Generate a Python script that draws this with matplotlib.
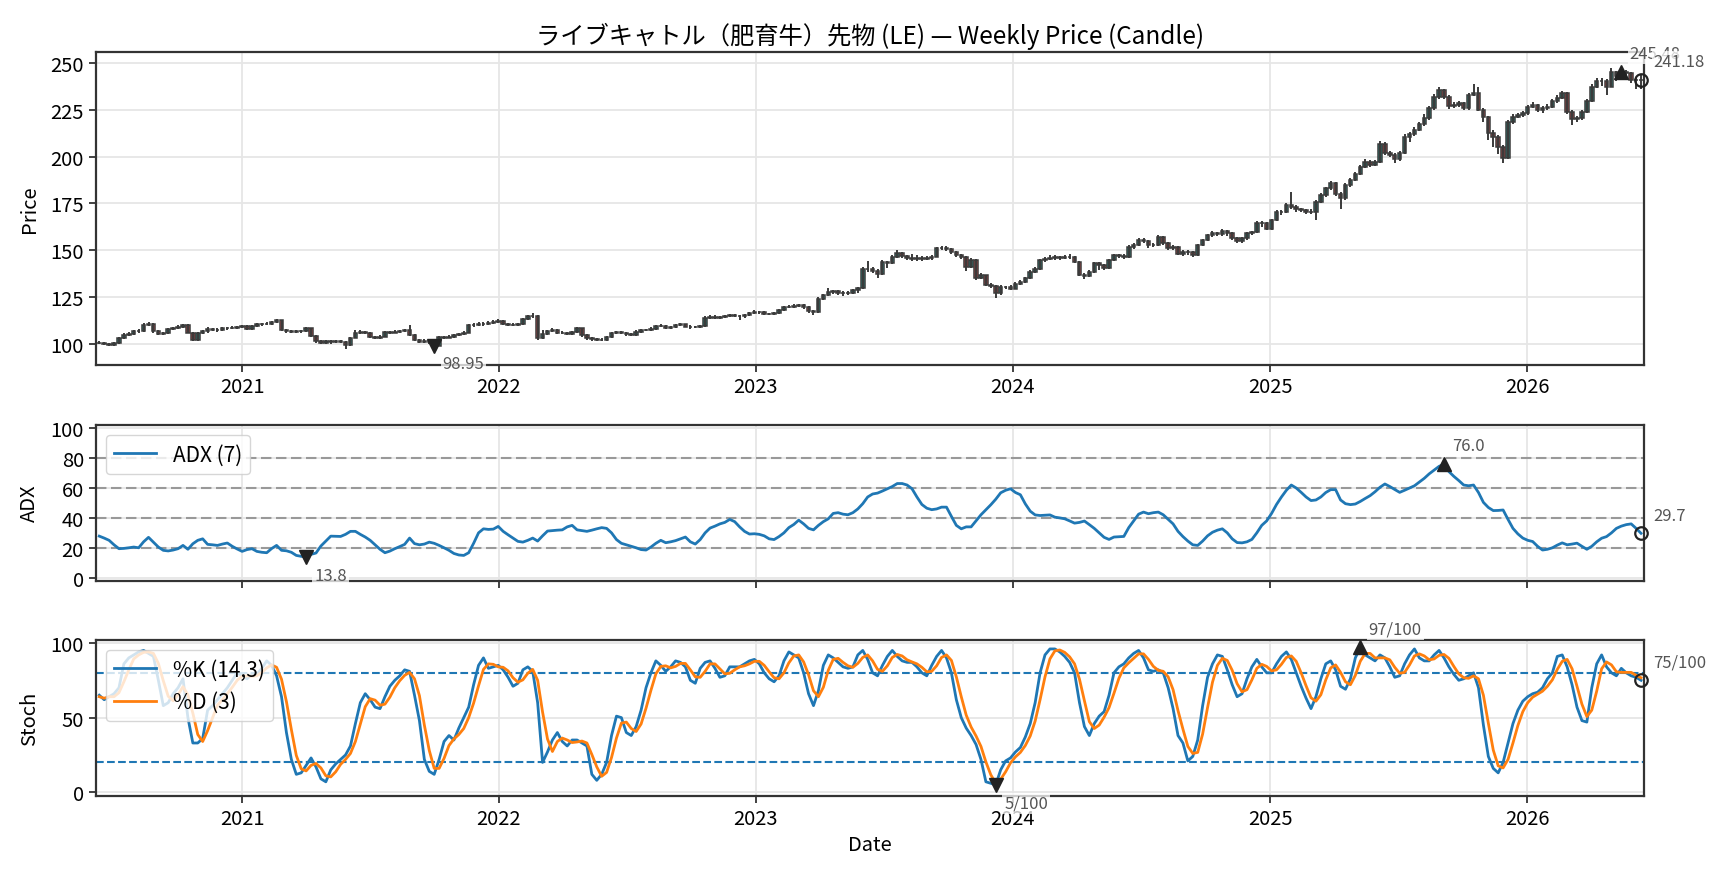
import numpy as np
import pandas as pd
import matplotlib
matplotlib.use("Agg")
import matplotlib.pyplot as plt
import matplotlib.dates as mdates
from matplotlib.ticker import MultipleLocator

plt.rcParams['font.family'] = ['Noto Sans CJK JP', 'DejaVu Sans']

# weekly bars
dates = pd.date_range('2020-06-12', periods=314, freq='7D')

opens = [
    100.6, 100.3, 99.6, 99.2, 100.4, 102.8, 104.8, 105.4, 106.6, 107.0,
    110.2, 110.6, 106.8, 105.4, 105.6, 107.8, 108.4, 109.2, 110.0, 106.0,
    102.0, 105.6, 106.6, 108.0, 107.6, 107.2, 108.2, 108.4, 108.6, 109.0,
    109.4, 108.0, 109.6, 110.6, 110.4, 110.8, 111.6, 112.6, 107.6, 106.6,
    106.4, 106.8, 106.6, 108.2, 104.2, 101.4, 100.6, 101.2, 100.8, 101.4,
    101.0, 99.4, 103.2, 106.0, 106.4, 105.8, 103.6, 103.2, 103.8, 106.2,
    106.0, 106.4, 106.8, 107.4, 104.6, 102.0, 101.0, 101.6, 100.8, 98.95,
    103.4, 103.2, 103.8, 104.6, 105.2, 106.0, 109.8, 110.2, 110.8, 110.4,
    111.2, 111.6, 112.4, 110.6, 110.2, 110.0, 110.6, 113.2, 114.6, 115.0,
    103.0, 105.4, 106.8, 107.4, 106.0, 105.6, 105.2, 106.2, 108.2, 104.6,
    102.8, 102.4, 102.0, 102.2, 103.5, 105.5, 106.2, 106.0, 105.0, 104.8,
    106.5, 107.2, 107.5, 108.0, 109.4, 109.6, 108.5, 108.8, 110.0, 110.3,
    109.2, 108.8, 109.0, 109.5, 114.0, 114.5, 114.0, 114.2, 114.6, 115.3,
    115.0, 114.6, 115.2, 116.4, 117.0, 116.8, 116.0, 115.8, 116.2, 118.0,
    119.4, 119.8, 120.4, 120.6, 119.8, 117.6, 117.0, 124.0, 126.0, 127.6,
    128.0, 127.2, 127.0, 127.0, 128.5, 129.6, 140.0, 140.2, 139.0, 137.5,
    143.7, 143.0, 146.5, 148.3, 146.8, 146.0, 145.2, 146.0, 145.4, 145.8,
    146.6, 151.0, 151.2, 150.8, 149.0, 147.3, 146.4, 141.0, 145.0, 135.0,
    136.6, 131.3, 131.0, 127.0, 130.4, 130.2, 129.5, 132.0, 133.0, 135.0,
    138.4, 140.0, 144.6, 145.5, 146.0, 146.2, 145.8, 146.5, 146.6, 143.7,
    137.0, 136.3, 138.4, 143.0, 142.0, 140.5, 144.6, 147.3, 147.0, 146.4,
    151.8, 152.7, 155.4, 155.0, 152.7, 152.7, 157.0, 154.0, 151.0, 151.8,
    148.2, 148.8, 148.8, 147.3, 152.7, 155.4, 158.0, 159.0, 158.4, 160.0,
    159.0, 156.3, 154.8, 156.3, 159.0, 159.5, 164.3, 164.3, 161.6, 166.0,
    170.5, 170.5, 174.0, 173.0, 172.0, 171.4, 170.5, 170.5, 176.0, 179.5,
    183.0, 185.7, 180.0, 177.7, 184.8, 187.5, 191.0, 194.6, 197.0, 195.5,
    197.3, 207.0, 202.0, 200.9, 199.0, 201.8, 210.7, 212.0, 214.3, 217.3,
    220.5, 225.9, 232.0, 235.7, 232.0, 227.0, 227.7, 228.6, 225.9, 233.0,
    233.9, 225.0, 221.0, 212.5, 210.7, 205.4, 199.5, 218.8, 221.4, 222.3,
    223.2, 226.8, 227.7, 225.0, 225.9, 226.8, 229.5, 231.6, 233.9, 224.0,
    220.0, 220.5, 224.0, 229.5, 237.5, 240.5, 240.2, 237.5, 245.0, 243.0,
    245.48, 244.6, 241.0, 241.0,
]
highs = [
    101.2, 100.9, 100.2, 100.9, 103.4, 105.5, 106.3, 107.2, 107.8, 110.9,
    111.5, 111.0, 107.4, 106.4, 108.3, 109.1, 109.8, 110.8, 110.4, 106.5,
    106.2, 107.4, 108.9, 108.6, 108.2, 108.9, 109.0, 109.3, 109.7, 110.0,
    109.8, 110.2, 111.3, 111.2, 111.6, 112.3, 113.4, 112.9, 108.1, 107.2,
    107.4, 107.5, 108.9, 108.6, 104.6, 102.0, 101.9, 101.8, 102.1, 102.0,
    101.4, 103.8, 107.6, 107.2, 107.0, 106.2, 104.2, 104.5, 106.8, 106.9,
    107.1, 107.5, 108.1, 110.0, 105.2, 102.6, 102.3, 102.1, 101.2, 104.0,
    104.1, 104.5, 105.2, 105.9, 106.8, 110.6, 111.2, 111.5, 111.4, 111.9,
    112.9, 113.2, 112.9, 111.3, 111.0, 111.3, 113.8, 115.6, 116.2, 115.4,
    107.2, 107.6, 108.2, 107.9, 106.6, 106.2, 106.9, 109.0, 108.6, 105.2,
    103.4, 102.9, 102.9, 104.1, 106.4, 106.9, 106.8, 106.4, 105.6, 107.1,
    107.8, 108.1, 108.7, 110.0, 110.3, 110.0, 109.5, 110.6, 111.0, 110.8,
    109.8, 109.6, 110.1, 114.6, 115.3, 115.1, 114.9, 115.2, 116.0, 115.8,
    115.4, 115.9, 117.0, 117.8, 117.6, 117.3, 116.6, 117.0, 118.8, 120.0,
    120.6, 121.2, 121.4, 121.2, 120.2, 118.2, 124.8, 126.8, 129.8, 128.9,
    128.7, 128.0, 128.1, 129.2, 130.4, 140.8, 144.4, 141.0, 139.8, 144.6,
    144.2, 147.4, 150.2, 149.0, 147.6, 147.8, 147.3, 146.8, 146.8, 147.6,
    151.8, 152.2, 152.0, 151.4, 149.6, 148.0, 146.8, 146.0, 145.4, 137.8,
    137.0, 132.4, 131.5, 131.2, 131.0, 131.4, 132.8, 133.9, 135.8, 139.2,
    140.9, 145.4, 146.6, 147.2, 147.2, 147.0, 147.6, 147.8, 147.0, 144.2,
    138.0, 139.2, 143.8, 143.8, 142.8, 145.4, 148.2, 148.2, 147.8, 152.6,
    153.6, 156.4, 156.6, 155.6, 153.8, 158.0, 157.8, 154.6, 152.8, 152.4,
    150.0, 150.0, 149.6, 153.4, 156.2, 158.8, 160.0, 159.8, 161.2, 160.8,
    159.6, 157.0, 157.2, 159.8, 160.4, 165.4, 165.6, 165.0, 166.8, 171.4,
    171.6, 175.0, 181.0, 174.2, 172.8, 172.2, 171.8, 177.0, 180.6, 184.0,
    186.8, 186.2, 181.0, 185.8, 188.6, 192.0, 195.6, 199.0, 198.0, 198.4,
    208.2, 207.8, 203.2, 201.8, 203.0, 212.0, 213.4, 215.6, 218.6, 222.8,
    227.2, 233.4, 237.0, 236.4, 232.8, 229.0, 230.0, 229.4, 234.2, 239.0,
    237.2, 225.8, 221.8, 214.0, 211.4, 206.4, 219.8, 222.8, 223.6, 224.4,
    227.8, 229.0, 228.4, 227.2, 228.0, 230.6, 233.0, 235.0, 234.6, 225.0,
    222.0, 225.0, 230.6, 238.8, 241.8, 242.0, 241.4, 247.6, 246.0, 246.8,
    246.6, 245.4, 242.6, 243.6,
]
lows = [
    99.6, 99.2, 98.6, 98.9, 100.0, 102.3, 104.1, 104.9, 105.9, 106.5,
    109.4, 106.0, 104.8, 104.6, 105.1, 107.2, 107.9, 108.6, 105.5, 101.2,
    101.6, 105.0, 106.0, 106.9, 106.5, 106.8, 107.6, 107.8, 108.0, 108.5,
    107.4, 107.6, 109.0, 109.7, 109.8, 110.2, 111.0, 107.0, 106.0, 105.8,
    105.9, 106.0, 106.2, 103.6, 100.6, 99.9, 100.0, 100.1, 100.2, 100.3,
    97.4, 99.0, 102.8, 105.2, 105.1, 103.0, 102.6, 102.7, 103.4, 105.4,
    105.5, 105.9, 106.2, 104.0, 101.4, 100.4, 100.5, 100.1, 98.3, 98.7,
    102.5, 102.8, 103.2, 104.1, 104.8, 105.6, 109.0, 109.6, 109.7, 109.9,
    110.6, 111.0, 110.0, 109.5, 109.3, 109.4, 110.2, 112.8, 113.9, 102.0,
    102.4, 104.9, 106.1, 105.4, 105.0, 104.6, 104.8, 105.8, 103.5, 102.2,
    101.6, 101.3, 101.2, 101.7, 103.0, 105.0, 105.2, 104.4, 104.1, 104.4,
    106.0, 106.6, 107.0, 107.6, 108.8, 107.9, 107.9, 108.3, 109.4, 108.7,
    108.1, 108.2, 108.4, 109.1, 113.4, 113.3, 113.4, 113.6, 114.1, 114.3,
    112.6, 114.0, 114.8, 115.9, 116.1, 115.4, 115.1, 115.1, 115.8, 117.6,
    118.9, 119.2, 119.6, 118.4, 116.4, 115.2, 116.6, 123.4, 125.4, 126.8,
    126.3, 125.6, 125.8, 126.6, 126.9, 129.2, 138.2, 137.8, 135.4, 137.0,
    140.4, 142.6, 145.8, 146.0, 145.0, 144.4, 144.0, 144.2, 144.6, 145.0,
    146.2, 150.0, 149.6, 148.0, 146.5, 145.4, 139.0, 140.6, 134.2, 134.4,
    130.8, 129.8, 124.6, 126.2, 129.2, 128.8, 129.0, 131.4, 132.4, 134.6,
    137.8, 139.6, 143.6, 144.8, 145.0, 144.9, 145.2, 145.2, 143.0, 136.0,
    134.8, 135.6, 137.8, 139.6, 139.4, 140.0, 144.0, 146.0, 145.4, 146.0,
    150.8, 152.0, 154.0, 151.4, 151.6, 152.0, 152.6, 150.2, 150.2, 147.2,
    147.0, 147.6, 146.2, 146.8, 152.0, 154.8, 157.2, 157.4, 157.8, 157.8,
    155.4, 153.8, 154.0, 155.6, 158.2, 159.0, 162.4, 160.6, 161.0, 165.6,
    169.0, 169.8, 172.0, 170.6, 170.2, 169.6, 169.4, 166.0, 175.2, 178.6,
    182.4, 179.0, 172.0, 177.0, 184.0, 186.8, 190.4, 193.8, 194.4, 194.8,
    196.8, 200.8, 199.8, 196.6, 197.8, 201.2, 208.0, 211.2, 213.6, 216.6,
    219.4, 225.0, 231.0, 230.6, 225.6, 226.0, 226.6, 225.0, 225.2, 232.6,
    224.2, 218.4, 209.0, 205.0, 201.2, 196.4, 199.0, 217.6, 220.6, 221.0,
    222.4, 225.8, 223.8, 223.6, 225.0, 226.0, 228.8, 231.0, 223.0, 217.2,
    218.6, 219.6, 223.2, 229.0, 236.6, 238.0, 233.0, 237.0, 240.4, 241.2,
    242.0, 239.6, 236.4, 236.0,
]
closes = [
    100.3, 99.6, 99.2, 100.4, 102.8, 104.8, 105.4, 106.6, 107.0, 110.2,
    110.6, 106.8, 105.4, 105.6, 107.8, 108.4, 109.2, 110.0, 106.0, 102.0,
    105.6, 106.6, 108.0, 107.6, 107.2, 108.2, 108.4, 108.6, 109.0, 109.4,
    108.0, 109.6, 110.6, 110.4, 110.8, 111.6, 112.6, 107.6, 106.6, 106.4,
    106.8, 106.6, 108.2, 104.2, 101.4, 100.6, 101.2, 100.8, 101.4, 101.0,
    99.4, 103.2, 106.0, 106.4, 105.8, 103.6, 103.2, 103.8, 106.2, 106.0,
    106.4, 106.8, 107.4, 104.6, 102.0, 101.0, 101.6, 100.8, 98.95, 103.4,
    103.2, 103.8, 104.6, 105.2, 106.0, 109.8, 110.2, 110.8, 110.4, 111.2,
    111.6, 112.4, 110.6, 110.2, 110.0, 110.6, 113.2, 114.6, 115.0, 103.0,
    105.4, 106.8, 107.4, 106.0, 105.6, 105.2, 106.2, 108.2, 104.6, 102.8,
    102.4, 102.0, 102.2, 103.5, 105.5, 106.2, 106.0, 105.0, 104.8, 106.5,
    107.2, 107.5, 108.0, 109.4, 109.6, 108.5, 108.8, 110.0, 110.3, 109.2,
    108.8, 109.0, 109.5, 114.0, 114.5, 114.0, 114.2, 114.6, 115.3, 115.0,
    114.6, 115.2, 116.4, 117.0, 116.8, 116.0, 115.8, 116.2, 118.0, 119.4,
    119.8, 120.4, 120.6, 119.8, 117.6, 117.0, 124.0, 126.0, 127.6, 128.0,
    127.2, 127.0, 127.0, 128.5, 129.6, 140.0, 140.2, 139.0, 137.5, 143.7,
    143.0, 146.5, 148.3, 146.8, 146.0, 145.2, 146.0, 145.4, 145.8, 146.6,
    151.0, 151.2, 150.8, 149.0, 147.3, 146.4, 141.0, 145.0, 135.0, 136.6,
    131.3, 131.0, 127.0, 130.4, 130.2, 129.5, 132.0, 133.0, 135.0, 138.4,
    140.0, 144.6, 145.5, 146.0, 146.2, 145.8, 146.5, 146.6, 143.7, 137.0,
    136.3, 138.4, 143.0, 142.0, 140.5, 144.6, 147.3, 147.0, 146.4, 151.8,
    152.7, 155.4, 155.0, 152.7, 152.7, 157.0, 154.0, 151.0, 151.8, 148.2,
    148.8, 148.8, 147.3, 152.7, 155.4, 158.0, 159.0, 158.4, 160.0, 159.0,
    156.3, 154.8, 156.3, 159.0, 159.5, 164.3, 164.3, 161.6, 166.0, 170.5,
    170.5, 174.0, 173.0, 172.0, 171.4, 170.5, 170.5, 176.0, 179.5, 183.0,
    185.7, 180.0, 177.7, 184.8, 187.5, 191.0, 194.6, 197.0, 195.5, 197.3,
    207.0, 202.0, 200.9, 199.0, 201.8, 210.7, 212.0, 214.3, 217.3, 220.5,
    225.9, 232.0, 235.7, 232.0, 227.0, 227.7, 228.6, 225.9, 233.0, 233.9,
    225.0, 221.0, 212.5, 210.7, 205.4, 199.5, 218.8, 221.4, 222.3, 223.2,
    226.8, 227.7, 225.0, 225.9, 226.8, 229.5, 231.6, 233.9, 224.0, 220.0,
    220.5, 224.0, 229.5, 237.5, 240.5, 240.2, 237.5, 245.0, 243.0, 245.48,
    244.6, 241.0, 241.0, 241.18,
]

adx = [
    27.8, 26.5, 25.0, 22.0, 19.4, 19.6, 20.0, 20.5, 20.0, 24.0,
    27.0, 23.8, 20.5, 18.3, 17.9, 18.5, 19.4, 21.6, 19.0, 22.7,
    25.0, 26.0, 22.3, 22.0, 21.6, 22.5, 23.2, 21.0, 19.2, 17.6,
    18.8, 19.4, 17.6, 17.0, 16.7, 19.5, 21.6, 18.3, 18.0, 17.0,
    14.9, 14.3, 13.8, 15.6, 16.5, 21.2, 24.5, 27.8, 27.7, 27.6,
    29.0, 31.0, 31.0, 29.0, 27.2, 25.0, 22.0, 19.0, 16.7, 17.8,
    19.4, 20.8, 22.3, 26.5, 22.8, 22.0, 22.5, 23.8, 23.0, 21.6,
    20.0, 18.3, 16.2, 15.2, 14.9, 16.7, 23.0, 30.0, 32.7, 32.3,
    32.5, 34.3, 31.0, 28.7, 26.5, 24.3, 23.8, 25.0, 26.5, 24.5,
    28.0, 31.2, 31.5, 31.8, 32.0, 34.0, 35.0, 32.0, 31.5, 31.0,
    31.8, 32.7, 33.5, 33.0, 30.0, 25.5, 23.0, 22.0, 21.0, 20.0,
    18.8, 18.5, 20.5, 23.0, 25.0, 23.4, 24.0, 24.8, 26.0, 27.2,
    24.0, 22.5, 25.5, 30.0, 33.2, 34.5, 36.0, 37.0, 39.0, 37.5,
    34.0, 31.0, 29.2, 29.4, 29.0, 28.0, 26.0, 25.5, 27.5, 30.0,
    33.5, 35.6, 38.5, 36.0, 33.0, 32.0, 35.0, 37.5, 39.4, 43.0,
    43.5, 42.5, 42.1, 43.5, 46.0, 49.5, 54.0, 56.0, 56.6, 58.0,
    59.5, 61.0, 63.0, 63.0, 62.0, 59.5, 54.0, 49.0, 46.5, 45.5,
    46.0, 47.2, 47.2, 41.0, 35.0, 32.7, 34.0, 34.0, 38.0, 42.1,
    45.5, 48.8, 52.5, 56.8, 58.5, 59.5, 57.0, 55.5, 49.4, 44.5,
    42.0, 41.6, 41.8, 42.0, 40.5, 40.0, 39.4, 38.0, 36.5, 37.0,
    37.9, 35.5, 33.0, 30.0, 27.0, 25.6, 27.2, 27.4, 27.6, 33.5,
    38.0, 42.5, 43.9, 42.8, 43.5, 43.9, 42.1, 39.0, 36.0, 31.0,
    27.5, 24.5, 22.0, 21.6, 24.5, 28.0, 30.4, 31.8, 32.7, 30.0,
    26.0, 23.5, 23.3, 24.0, 25.6, 30.0, 35.0, 38.0, 43.0, 49.0,
    54.0, 58.5, 62.0, 60.0, 57.1, 54.0, 51.6, 52.0, 54.0, 57.0,
    58.9, 58.9, 52.0, 49.5, 48.9, 49.3, 51.0, 53.0, 54.9, 57.5,
    60.5, 62.7, 61.0, 59.0, 57.1, 58.5, 60.0, 61.5, 64.0, 66.5,
    69.5, 72.0, 74.5, 76.0, 71.0, 67.8, 65.0, 62.0, 61.5, 62.0,
    57.0, 50.4, 47.0, 44.9, 45.0, 45.3, 39.0, 33.0, 29.3, 26.5,
    25.0, 24.2, 21.0, 18.5, 19.0, 20.0, 21.8, 23.3, 22.0, 22.5,
    23.1, 21.0, 19.0, 21.0, 24.0, 26.4, 27.5, 30.0, 33.0, 34.5,
    35.5, 36.0, 33.0, 29.7,
]

stoch_k = [
    65, 62, 64, 66, 70, 86, 90, 92, 94, 95,
    93, 91, 75, 58, 60, 66, 70, 76, 50, 33,
    33, 36, 55, 58, 62, 66, 70, 75, 80, 78,
    76, 79, 79, 83, 88, 85, 78, 64, 40, 22,
    12, 13, 18, 23, 17, 9, 7, 15, 19, 22,
    25, 31, 46, 60, 66, 62, 57, 56, 64, 71,
    75, 78, 82, 81, 65, 48, 22, 14, 12, 22,
    34, 38, 35, 43, 50, 57, 72, 85, 90, 83,
    84, 85, 82, 77, 71, 73, 82, 84, 81, 60,
    20, 27, 35, 40, 34, 31, 35, 35, 33, 31,
    12, 8, 12, 20, 38, 51, 50, 40, 38, 44,
    55, 70, 80, 88, 85, 81, 84, 88, 87, 84,
    75, 73, 83, 87, 88, 83, 77, 78, 84, 84,
    84, 86, 88, 89, 86, 80, 76, 74, 78, 88,
    94, 92, 90, 80, 66, 58, 68, 85, 92, 90,
    87, 84, 83, 84, 92, 95, 89, 80, 78, 85,
    91, 95, 91, 88, 87, 87, 84, 80, 78, 85,
    91, 95, 90, 80, 62, 50, 43, 38, 32, 22,
    7, 6, 5, 15, 21, 23, 27, 30, 37, 46,
    60, 80, 92, 96, 96, 94, 91, 87, 80, 60,
    44, 38, 46, 51, 54, 65, 80, 84, 86, 90,
    93, 95, 90, 82, 81, 82, 80, 70, 56, 38,
    33, 21, 24, 35, 58, 77, 86, 92, 91, 82,
    72, 64, 66, 76, 84, 89, 84, 80, 80, 86,
    91, 94, 89, 80, 71, 63, 56, 64, 76, 86,
    88, 82, 71, 69, 76, 90, 97, 92, 90, 88,
    92, 90, 84, 77, 78, 86, 92, 96, 90, 88,
    88, 92, 95, 90, 84, 79, 75, 76, 78, 80,
    70, 45, 24, 16, 13, 20, 33, 46, 55, 61,
    64, 66, 67, 70, 76, 80, 91, 92, 84, 72,
    57, 48, 47, 70, 86, 92, 84, 80, 78, 83,
    80, 78, 77, 75,
]
stoch_d = [
    64, 63, 64, 64, 66.7, 74, 82, 89.3, 92, 93.7,
    94, 93, 86.3, 74.7, 64.3, 61.3, 65.3, 70.7, 65.3, 53,
    38.7, 34, 41.3, 49.7, 58.3, 62, 66, 70.3, 75, 77.7,
    78, 77.7, 78, 80.3, 83.3, 85.3, 83.7, 75.7, 60.7, 42,
    24.7, 15.7, 14.3, 18, 19.3, 16.3, 11, 10.3, 13.7, 18.7,
    22, 26, 34, 45.7, 57.3, 62.7, 61.7, 58.3, 59, 63.7,
    70, 74.7, 78.3, 80.3, 76, 64.7, 45, 28, 16, 16,
    22.7, 31.3, 35.7, 38.7, 42.7, 50, 59.7, 71.3, 82.3, 86,
    85.7, 84, 83.7, 81.3, 76.7, 73.7, 75.3, 79.7, 82.3, 75,
    53.7, 35.7, 27.3, 34, 36.3, 35, 33.3, 33.7, 34.3, 33,
    25.3, 17, 10.7, 13.3, 23.3, 36.3, 46.3, 47, 42.7, 40.7,
    45.7, 56.3, 68.3, 79.3, 84.3, 84.7, 83.3, 84.3, 86.3, 86.3,
    82, 77.3, 77, 81, 86, 86, 82.7, 79.3, 79.7, 82,
    84, 84.7, 86, 87.7, 87.7, 85, 80.7, 76.7, 76, 80,
    86.7, 91.3, 92, 87.3, 78.7, 68, 64, 70.3, 81.7, 89,
    89.7, 87, 84.7, 83.7, 86.3, 90.3, 92, 88, 82.3, 81,
    84.7, 90.3, 92.3, 91.3, 88.7, 87.3, 86, 83.7, 80.7, 81,
    84.7, 90.3, 92, 88.3, 77.3, 64, 51.7, 43.7, 37.7, 30.7,
    20.3, 11.7, 6, 8.7, 13.7, 19.7, 23.7, 26.7, 31.3, 37.7,
    47.7, 62, 77.3, 89.3, 94.7, 95.3, 93.7, 90.7, 86, 75.7,
    61.3, 47.3, 42.7, 45, 50.3, 56.7, 66.3, 76.3, 83.3, 86.7,
    89.7, 92.7, 92.7, 89, 84.3, 81.7, 81, 77.3, 68.7, 54.7,
    42.3, 30.7, 26, 26.7, 39, 56.7, 73.7, 85, 89.7, 88.3,
    81.7, 72.7, 67.3, 68.7, 75.3, 83, 85.7, 84.3, 81.3, 82,
    85.7, 90.3, 91.3, 87.7, 80, 71.3, 63.3, 61, 65.3, 75.3,
    83.3, 85.3, 80.3, 74, 72, 78.3, 87.7, 93, 93, 90,
    90, 90, 88.7, 83.7, 79.7, 80.3, 85.3, 91.3, 92.7, 91.3,
    88.7, 89.3, 91.7, 92.3, 89.7, 84.3, 79.3, 76.7, 76.3, 78,
    76, 65, 46.3, 28.3, 17.7, 16.3, 22, 33, 44.7, 54,
    60, 63.7, 65.7, 67.7, 71, 75.3, 82.3, 87.7, 89, 82.7,
    71, 59, 50.7, 55, 67.7, 82.7, 87.3, 85.3, 80.7, 80.3,
    80.3, 80.3, 78.3, 76.7,
]

title = 'ライブキャトル（肥育牛）先物 (LE) — Weekly Price (Candle)'

x = mdates.date2num(dates)
o = np.array(opens)
h = np.array(highs)
l = np.array(lows)
c = np.array(closes)
adx = np.array(adx)
k = np.array(stoch_k, dtype=float)
d = np.array(stoch_d, dtype=float)

fig = plt.figure(figsize=(17.28, 8.78), dpi=100)
ax1 = fig.add_axes([0.0554, 0.5835, 0.8959, 0.3558])
ax2 = fig.add_axes([0.0554, 0.3375, 0.8959, 0.1777], sharex=ax1)
ax3 = fig.add_axes([0.0554, 0.0926, 0.8959, 0.1777], sharex=ax1)

dark = '#333333'
txt_kw = dict(fontsize=12, color='#555555', zorder=8,
              bbox=dict(boxstyle='square,pad=0.12', fc='white', ec='none', alpha=0.75))


def mark_points(ax, xs, ys, fmt):
    imax = int(np.argmax(ys))
    imin = int(np.argmin(ys))
    ax.plot(xs[imax], ys[imax], marker='^', color='#222222', ms=10, zorder=6)
    ax.annotate(fmt(ys[imax]), (xs[imax], ys[imax]), xytext=(6, 7),
                textcoords='offset points', ha='left', va='bottom', **txt_kw)
    ax.plot(xs[imin], ys[imin], marker='v', color='#222222', ms=10, zorder=6)
    ax.annotate(fmt(ys[imin]), (xs[imin], ys[imin]), xytext=(6, -7),
                textcoords='offset points', ha='left', va='top', **txt_kw)
    ax.plot(xs[-1], ys[-1], marker='o', mfc='none', mec='#222222', ms=9, mew=1.6,
            clip_on=False, zorder=7)
    ax.annotate(fmt(ys[-1]), (xs[-1], ys[-1]), xytext=(9, 7),
                textcoords='offset points', ha='left', va='bottom', **txt_kw)


# price candles: bodies first, wick line drawn over them
up = c >= o
ax1.bar(x, np.abs(c - o), bottom=np.minimum(o, c), width=5.0,
        color=np.where(up, '#26a69a', '#ef5350'), edgecolor='#3a3a3a', linewidth=1.1, zorder=2)
ax1.vlines(x, l, h, color='#3a3a3a', lw=1.4, zorder=3)
mark_points(ax1, x, c, lambda v: f'{v:.2f}')
ax1.set_ylim(88.8, 255.8)
ax1.yaxis.set_major_locator(MultipleLocator(25))
ax1.set_ylabel('Price', fontsize=14.5)
ax1.set_title(title, fontsize=17.5, pad=7)

# ADX
for lvl in (20, 40, 60, 80):
    ax2.axhline(lvl, color='#999999', ls=(0, (5, 2.2)), lw=1.5, zorder=1)
ax2.plot(x, adx, color='#1f77b4', lw=2, label='ADX (7)', zorder=3)
mark_points(ax2, x, adx, lambda v: f'{v:.1f}')
ax2.set_ylim(-2, 102.4)
ax2.yaxis.set_major_locator(MultipleLocator(20))
ax2.set_ylabel('ADX', fontsize=14.5)
ax2.legend(loc='upper left', fontsize=15)
ax2.tick_params(labelbottom=False)

# Stochastics
for lvl in (20, 80):
    ax3.axhline(lvl, color='#1f77b4', ls='--', lw=1.5, zorder=1)
ax3.plot(x, k, color='#1f77b4', lw=2, label='%K (14,3)', zorder=3)
ax3.plot(x, d, color='#ff7f0e', lw=2, label='%D (3)', zorder=4)
mark_points(ax3, x, k, lambda v: f'{v:.0f}/100')
ax3.set_ylim(-2.3, 102.2)
ax3.yaxis.set_major_locator(MultipleLocator(50))
ax3.set_ylabel('Stoch', fontsize=14.5)
ax3.set_xlabel('Date', fontsize=14.5)
ax3.legend(loc='upper left', fontsize=15)

for ax in (ax1, ax2, ax3):
    ax.set_axisbelow(True)
    ax.grid(True, color='#e6e6e6', lw=1.3)
    ax.tick_params(labelsize=14.5, length=5, width=1.3, color=dark)
    for s in ax.spines.values():
        s.set_color(dark)
        s.set_linewidth(1.6)
    ax.yaxis.set_label_coords(-0.036, 0.5)

ax1.xaxis.set_major_locator(mdates.YearLocator())
ax1.xaxis.set_major_formatter(mdates.DateFormatter('%Y'))
ax1.set_xlim(mdates.date2num(pd.Timestamp('2020-06-07')),
             mdates.date2num(pd.Timestamp('2026-06-16')))
ax1.tick_params(labelbottom=True)
ax3.xaxis.set_label_coords(0.5, -0.245)

fig.savefig('out.png', dpi=100)
